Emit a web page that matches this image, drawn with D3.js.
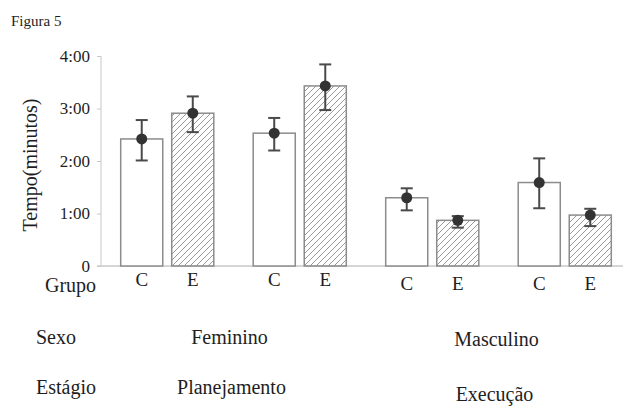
<!DOCTYPE html>
<html>
<head>
<meta charset="utf-8">
<script src="https://cdn.jsdelivr.net/npm/d3@7"></script>
<style>
  html, body { margin: 0; padding: 0; background: #fff; }
  svg { display: block; }
  svg text { font-family: "Liberation Serif", "Times New Roman", Times, "DejaVu Serif", serif; fill: #1e1e1e; }
</style>
</head>
<body>
<svg id="chart" width="623" height="407"></svg>
<script>
// Mean task time (minutes) per group, with error bars
const categories = ["Fem-Plan", "Fem-Exec", "Masc-Plan", "Masc-Exec"];
const groups = ["C", "E"];
const meanC = [2.42, 2.53, 1.30, 1.59];
const meanE = [2.91, 3.43, 0.87, 0.97];
const errHighC = [2.78, 2.82, 1.48, 2.05];
const errLowC = [2.01, 2.20, 1.06, 1.10];
const errHighE = [3.23, 3.84, 0.95, 1.09];
const errLowE = [2.55, 2.97, 0.73, 0.76];
const yTicks = [0, 1, 2, 3, 4];
const yTickLabels = ["0", "1:00", "2:00", "3:00", "4:00"];
const sexLabels = ["Feminino", "Masculino"];
const stageLabels = ["Planejamento", "Execução"];

const SERIF = "'Liberation Serif', 'Times New Roman', Times, 'DejaVu Serif', serif";

const rows = [];
categories.forEach((cat, i) => {
  rows.push({ cat, grp: "C", mean: meanC[i], hi: errHighC[i], lo: errLowC[i], idx: i });
  rows.push({ cat, grp: "E", mean: meanE[i], hi: errHighE[i], lo: errLowE[i], idx: i });
});

const svg = d3.select("#chart");

const y = d3.scaleLinear().domain([0, 4]).range([266, 56]);
const x0 = d3.scaleBand().domain(categories).range([101, 631]).padding(0);
const x1 = d3.scaleBand().domain(groups).range([0, x0.bandwidth()])
  .paddingInner(0.176).paddingOuter(0.386);

// Hatch fill for group E
const defs = svg.append("defs");
defs.append("pattern")
  .attr("id", "hatch")
  .attr("patternUnits", "userSpaceOnUse")
  .attr("width", 6).attr("height", 6)
  .append("path")
  .attr("d", "M0,6 L6,0 M-1.5,1.5 L1.5,-1.5 M4.5,7.5 L7.5,4.5")
  .attr("stroke", "#9a9a9a")
  .attr("stroke-width", 1);

function label(x, yy, txt, size, anchor) {
  return svg.append("text").attr("x", x).attr("y", yy)
    .attr("text-anchor", anchor || "start")
    .style("font-family", SERIF).style("font-size", size + "px")
    .text(txt);
}

// Title
label(11, 26, "Figura 5", 15);

// Y axis
const yAxis = d3.axisLeft(y).tickValues(yTicks)
  .tickFormat((d, i) => yTickLabels[i]).tickSize(4).tickPadding(7);
const gy = svg.append("g").attr("transform", "translate(101,0)").call(yAxis);
gy.attr("font-family", null).attr("font-size", null);
gy.select(".domain").attr("stroke", "#c8c8c8").attr("d", "M0,56V266");
gy.selectAll(".tick line").attr("stroke", "#c8c8c8");
gy.selectAll(".tick text").style("font-size", "17px")
  .style("font-family", SERIF).attr("fill", "#1e1e1e");

// Baseline
svg.append("line").attr("x1", 97).attr("x2", 623)
  .attr("y1", y(0)).attr("y2", y(0))
  .attr("stroke", "#c8c8c8").attr("stroke-width", 1.5);

// Y title
svg.append("text")
  .attr("transform", "translate(37,165) rotate(-90)")
  .attr("text-anchor", "middle")
  .style("font-family", SERIF)
  .style("font-size", "20px").text("Tempo(minutos)");

// Bars
svg.append("g").selectAll("rect").data(rows).join("rect")
  .attr("x", d => x0(d.cat) + x1(d.grp))
  .attr("y", d => y(d.mean))
  .attr("width", x1.bandwidth())
  .attr("height", d => y(0) - y(d.mean))
  .attr("fill", d => d.grp === "C" ? "#ffffff" : "url(#hatch)")
  .attr("stroke", "#8c8c8c").attr("stroke-width", 1.5);

// Error bars
const eb = svg.append("g").selectAll("g").data(rows).join("g")
  .attr("transform", d => `translate(${x0(d.cat) + x1(d.grp) + x1.bandwidth() / 2},0)`);
eb.append("line").attr("y1", d => y(d.hi)).attr("y2", d => y(d.lo))
  .attr("stroke", "#4a4a4a").attr("stroke-width", 2);
eb.append("line").attr("x1", -6).attr("x2", 6)
  .attr("y1", d => y(d.hi)).attr("y2", d => y(d.hi))
  .attr("stroke", "#4a4a4a").attr("stroke-width", 2);
eb.append("line").attr("x1", -6).attr("x2", 6)
  .attr("y1", d => y(d.lo)).attr("y2", d => y(d.lo))
  .attr("stroke", "#4a4a4a").attr("stroke-width", 2);
eb.append("circle").attr("cy", d => y(d.mean)).attr("r", 5.5)
  .attr("fill", "#333333");

// Group letters under bars
svg.append("g").selectAll("text").data(rows).join("text")
  .attr("x", d => x0(d.cat) + x1(d.grp) + x1.bandwidth() / 2)
  .attr("y", d => d.idx < 2 ? 286 : 290)
  .attr("text-anchor", "middle")
  .style("font-family", SERIF)
  .style("font-size", "19px")
  .text(d => d.grp);

// Row headers
label(45, 292, "Grupo", 20);
label(36, 344, "Sexo", 20);
label(36, 394, "Estágio", 20);

// Sex and stage labels, centred under each pair of categories
const pairCenter = k => (x0(categories[2 * k]) + x0(categories[2 * k + 1]) + x0.bandwidth()) / 2;
sexLabels.forEach((s, k) => {
  label(pairCenter(k) - 4 + k * 2, k === 0 ? 344 : 346, s, 20, "middle");
});
stageLabels.forEach((s, k) => {
  label(pairCenter(k) - 2 - k * 2, k === 0 ? 394 : 401, s, 20, "middle");
});
</script>
</body>
</html>
